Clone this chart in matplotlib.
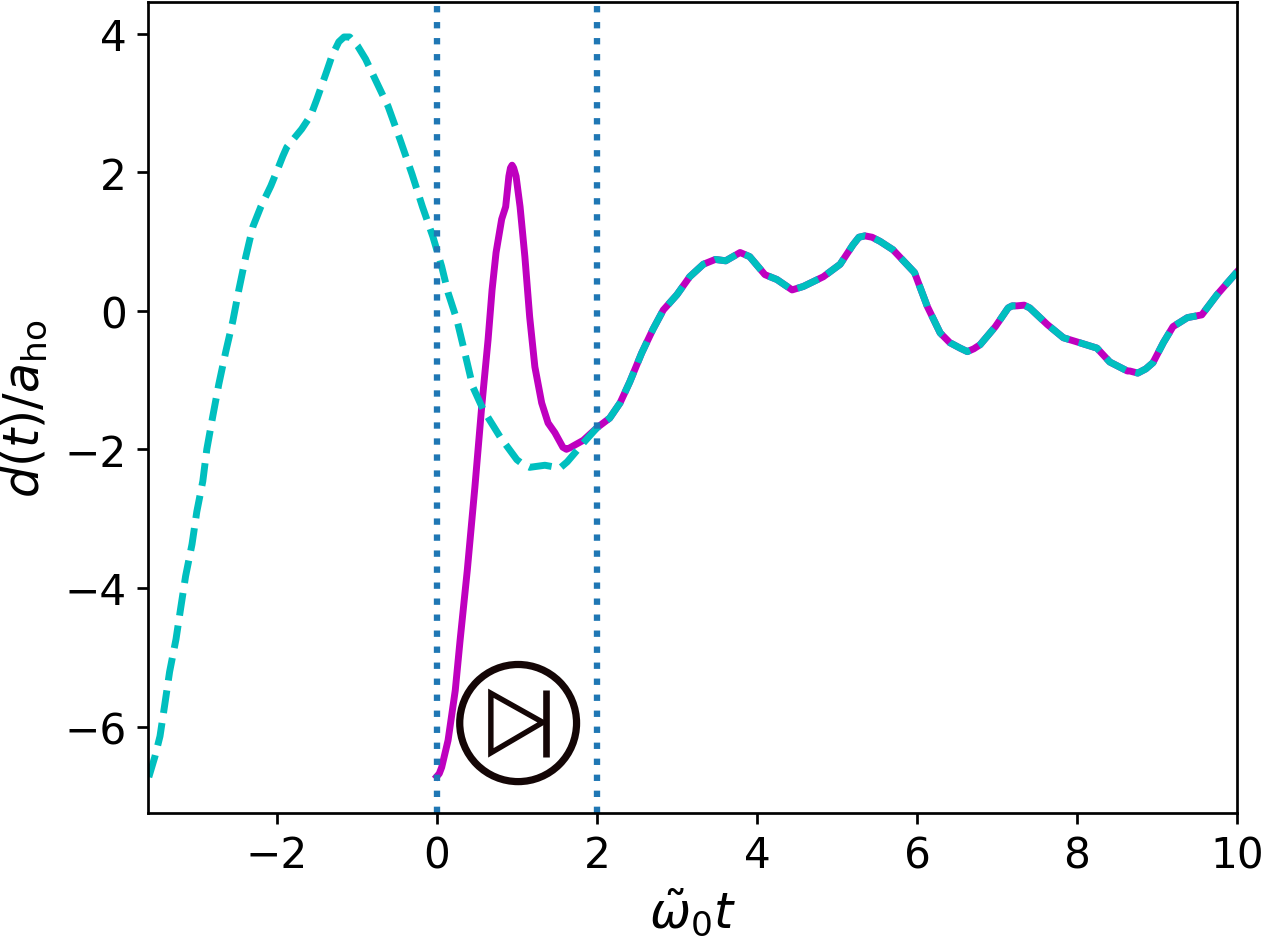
"""Dipole trajectory d(t) with a pulse window between two dotted lines."""
import matplotlib
matplotlib.use("Agg")
import matplotlib.pyplot as plt
from matplotlib.patches import Ellipse, Polygon

# cyan curve: free trajectory
t_free = [-3.60, -3.525, -3.46, -3.40, -3.34, -3.26, -3.20, -3.14, -3.06, -3.00,
          -2.925, -2.875, -2.80, -2.725, -2.64, -2.55, -2.475, -2.39, -2.30, -2.20,
          -2.075, -1.99, -1.925, -1.875, -1.69, -1.575, -1.50, -1.375, -1.31, -1.225,
          -1.16, -1.09, -0.99, -0.89, -0.80, -0.61, -0.46, -0.31, -0.18, -0.05,
          0.06, 0.14, 0.25, 0.35, 0.45, 0.58, 0.79, 1.00, 1.08, 1.16,
          1.35, 1.54, 1.63, 1.83, 2.00]
d_free = [-6.73, -6.44, -6.14, -5.68, -5.21, -4.74, -4.28, -3.83, -3.37, -2.90,
          -2.46, -2.00, -1.52, -1.06, -0.60, -0.15, 0.30, 0.77, 1.21, 1.50,
          1.80, 2.04, 2.23, 2.36, 2.62, 2.82, 3.05, 3.46, 3.68, 3.88,
          3.95, 3.95, 3.82, 3.63, 3.41, 2.95, 2.47, 1.97, 1.50, 1.07,
          0.64, 0.26, -0.13, -0.61, -1.10, -1.43, -1.82, -2.15, -2.22, -2.26,
          -2.23, -2.27, -2.18, -1.91, -1.69]

# magenta curve: driven part inside the window
t_pulse = [0.00, 0.03, 0.06, 0.14, 0.23, 0.29, 0.38, 0.475, 0.56, 0.64, 0.69,
           0.74, 0.81, 0.86, 0.90, 0.92, 0.94, 0.96, 0.99, 1.04, 1.10, 1.16, 1.225,
           1.31, 1.39, 1.475, 1.575, 1.62, 1.66, 1.83, 2.00]
d_pulse = [-6.72, -6.68, -6.59, -6.20, -5.48, -4.76, -3.75, -2.55, -1.39, -0.42, 0.30,
           0.84, 1.32, 1.50, 1.94, 2.06, 2.10, 2.06, 1.94, 1.50, 0.78, -0.09, -0.81,
           -1.33, -1.62, -1.76, -1.97, -2.00, -1.98, -1.87, -1.69]

# shared part after the window
t_tail = [2.16, 2.29, 2.41, 2.56, 2.70, 2.83, 3.00, 3.16, 3.33, 3.48,
          3.61, 3.79, 3.91, 4.10, 4.25, 4.44, 4.58, 4.83, 5.04, 5.20,
          5.275, 5.35, 5.44, 5.54, 5.70, 5.97, 6.13, 6.29, 6.41, 6.54, 6.63, 6.71, 6.79, 6.98,
          7.14, 7.19, 7.25, 7.34, 7.41, 7.63, 7.83, 8.00, 8.25, 8.41, 8.63, 8.66, 8.76, 8.86,
          8.95, 9.08, 9.20, 9.38, 9.56, 9.75, 10.00]
d_tail = [-1.55, -1.33, -1.03, -0.61, -0.27, 0.01, 0.23, 0.49, 0.67, 0.74,
          0.72, 0.84, 0.78, 0.52, 0.45, 0.30, 0.35, 0.49, 0.67, 0.95,
          1.06, 1.08, 1.06, 1.00, 0.88, 0.55, 0.06, -0.32, -0.46, -0.54, -0.59, -0.55, -0.49, -0.23,
          0.04, 0.07, 0.07, 0.08, 0.04, -0.20, -0.39, -0.45, -0.54, -0.74, -0.87, -0.87, -0.90, -0.84,
          -0.75, -0.46, -0.23, -0.10, -0.06, 0.23, 0.56]

window = [0, 2]
x_ticks = [-2, 0, 2, 4, 6, 8, 10]
y_ticks = [-6, -4, -2, 0, 2, 4]

W, H, DPI = 1263, 938, 217
ICON = "#140606"
LW = 2.3

fig = plt.figure(figsize=(W / DPI, H / DPI), dpi=DPI)
ax = fig.add_axes([148 / W, 1 - 814 / H, (1237 - 148) / W, (814 - 2.7) / H])

ax.plot(t_pulse + t_tail, d_pulse + d_tail, color="m", linewidth=LW)
ax.plot(t_free + t_tail, d_free + d_tail, color="c", linewidth=LW, dashes=(3.3, 1.45))
for x0 in window:
    ax.axvline(x0, color="tab:blue", linewidth=2.1, dashes=(1, 1.53))

# skip-forward icon, sits inside the window
ax.add_patch(Ellipse((1.016, -5.95), 1.46, 1.69, fill=False, edgecolor=ICON, linewidth=2.4))
ax.add_patch(Polygon([(0.675, -5.52), (0.675, -6.38), (1.325, -5.94)], closed=True,
                     fill=False, edgecolor=ICON, linewidth=1.8))
ax.plot([1.37, 1.37], [-5.47, -6.44], color=ICON, linewidth=2.2, solid_capstyle="butt")

ax.set_xlim(-3.61, 10)
ax.set_ylim(-7.248, 4.459)
ax.set_xticks(x_ticks)
ax.set_yticks(y_ticks)
ax.tick_params(labelsize=14, width=0.9)
for spine in ax.spines.values():
    spine.set_linewidth(0.9)
ax.set_xlabel(r"$\tilde{\omega}_0 t$", fontsize=16.3, labelpad=3)
ax.set_ylabel(r"$d(t)/a_{\rm ho}$", fontsize=16.3, labelpad=5.3)

fig.savefig("out.png", dpi=DPI)
